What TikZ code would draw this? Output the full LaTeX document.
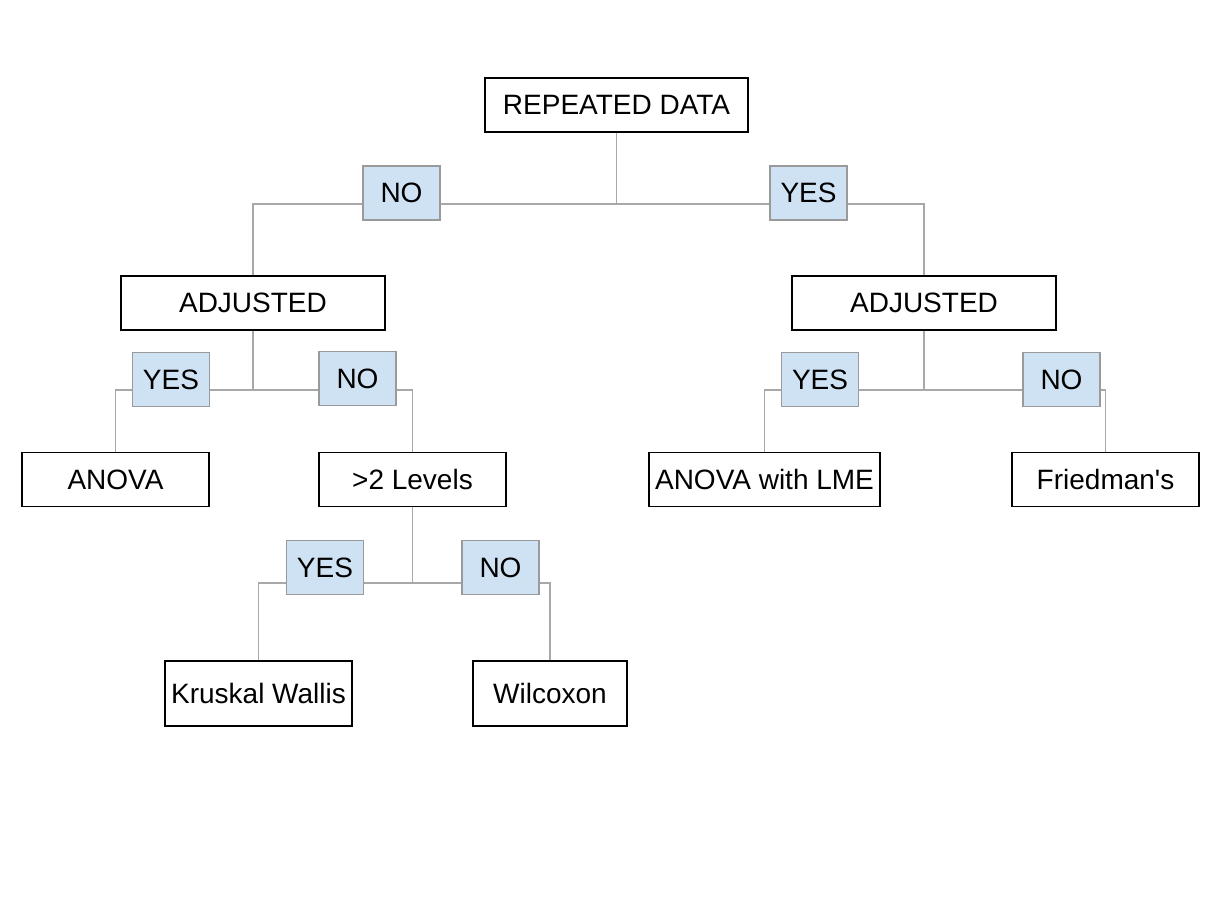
\documentclass[tikz,border=0pt]{standalone}
\usepackage{fontspec}
\setmainfont{Liberation Sans}
\usetikzlibrary{backgrounds}
\definecolor{lblfill}{HTML}{CFE2F3}
\definecolor{lblline}{HTML}{9A9A9A}
\definecolor{linkgray}{HTML}{A8A8A8}

\begin{document}
\begin{tikzpicture}[x=0.5pt,y=-0.5pt,
  every node/.style={font=\fontsize{14}{16}\selectfont, inner sep=0pt},
  box/.style={draw=black, fill=white, line width=0.6pt, minimum height=27pt},
  lbl/.style={draw=lblline, fill=lblfill, line width=0.6pt, minimum width=38.5pt, minimum height=27pt},
  link/.style={draw=linkgray, line width=0.6pt}]
\useasboundingbox (0,0) rectangle (1213,910);
% decision and result boxes
\node[box,minimum width=131.5pt] (rep)  at (616.5,105)  {REPEATED DATA};
\node[box,minimum width=132pt]   (adjN) at (253,303)    {ADJUSTED};
\node[box,minimum width=132pt]   (adjY) at (924,303)    {ADJUSTED};
\node[box,minimum width=93.5pt]  (anova) at (115.5,479.5) {ANOVA};
\node[box,minimum width=93.5pt]  (lev)  at (412.5,479.5) {>2 Levels};
\node[box,minimum width=115.5pt] (lme)  at (764.5,479.5) {ANOVA with LME};
\node[box,minimum width=93.5pt]  (fried) at (1105.5,479.5) {Friedman\textquotesingle s};
\node[box,minimum width=93.5pt,minimum height=32.5pt] (krus) at (258.5,693.5) {Kruskal Wallis};
\node[box,minimum width=77pt,minimum height=32.5pt]   (wilc) at (550,693.5)   {Wilcoxon};
% branch labels
\node[lbl] (noA)  at (401.5,193)   {NO};
\node[lbl] (yesA) at (808.5,193)   {YES};
\node[lbl] (yesB) at (171,379.5)   {YES};
\node[lbl] (noB)  at (357.5,378.5) {NO};
\node[lbl] (yesC) at (820,379.5)   {YES};
\node[lbl] (noC)  at (1061.5,379.5) {NO};
\node[lbl] (yesD) at (325,567.5)   {YES};
\node[lbl] (noD)  at (500.5,567.5) {NO};
% branch points
\coordinate (j0) at (616.5,204);
\coordinate (j1) at (253,390);
\coordinate (j2) at (924,390);
\coordinate (j3) at (412.5,583);
\begin{scope}[on background layer]
\draw[link] (rep) -- (j0);
\draw[link] (j0) -| (adjN);
\draw[link] (j0) -| (adjY);
\draw[link] (adjN) -- (j1);
\draw[link] (j1) -| (anova);
\draw[link] (j1) -| (lev);
\draw[link] (adjY) -- (j2);
\draw[link] (j2) -| (lme);
\draw[link] (j2) -| (fried);
\draw[link] (lev) -- (j3);
\draw[link] (j3) -| (krus);
\draw[link] (j3) -| (wilc);
\end{scope}
\end{tikzpicture}
\end{document}
